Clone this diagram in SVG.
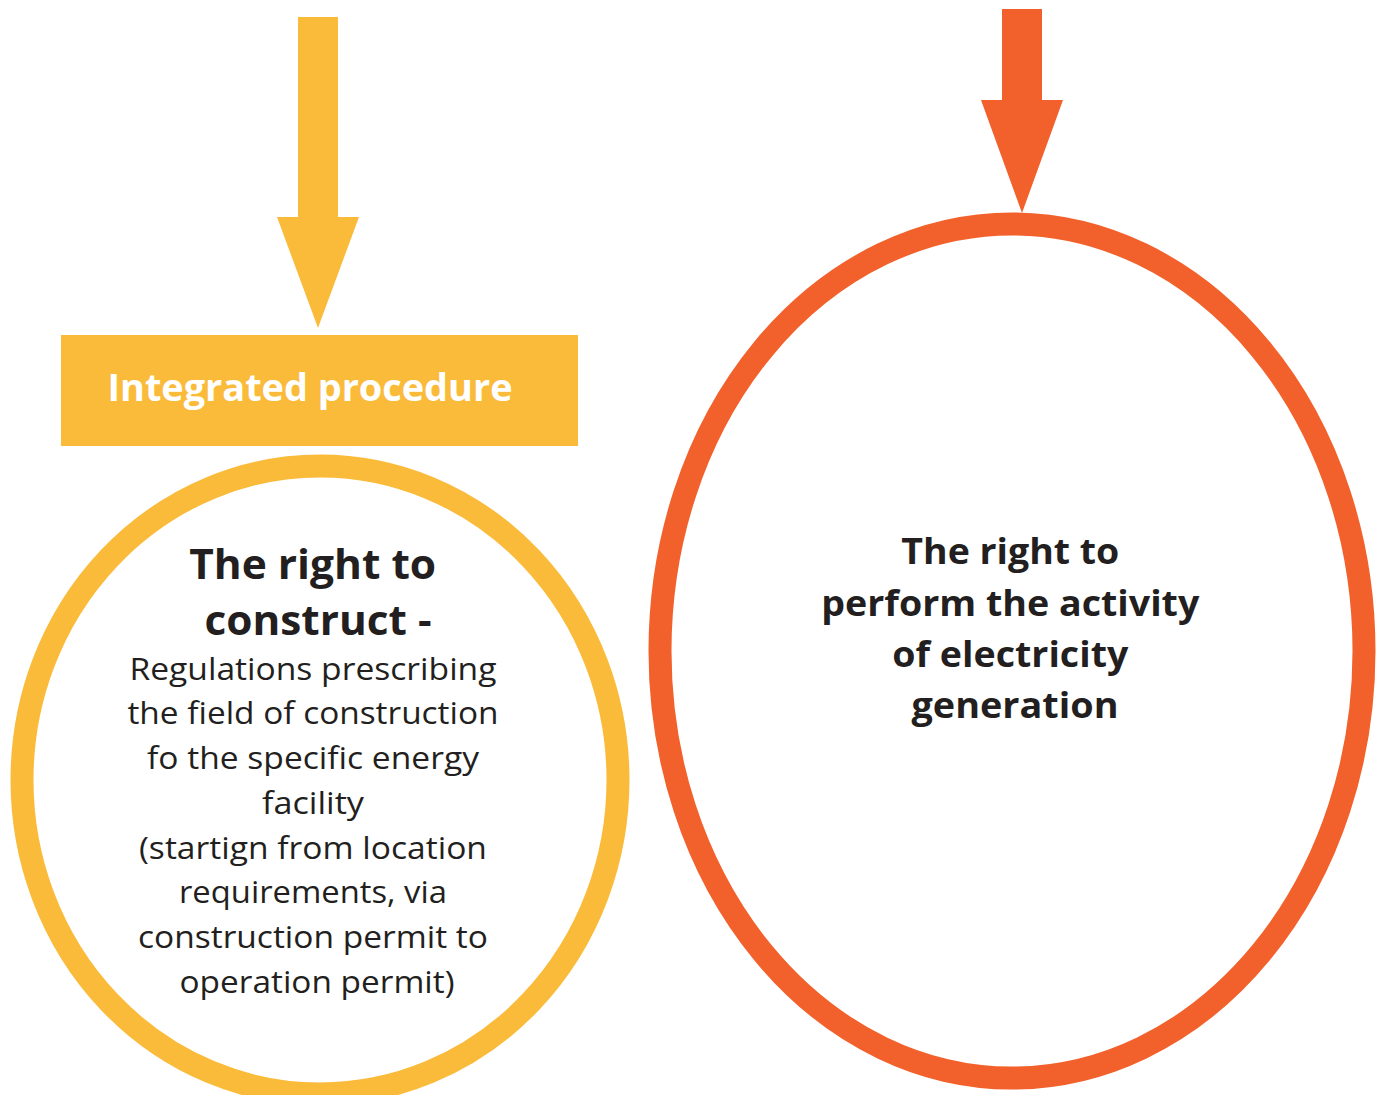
<svg xmlns="http://www.w3.org/2000/svg" width="1381" height="1095" viewBox="0 0 1381 1095">
<style>
.t{font-family:"Open Sans","Liberation Sans",sans-serif;fill:#231f20;text-anchor:middle}
.b{font-weight:bold}
.r{font-weight:normal}
.yel{fill:#fbbb3a}
.org{fill:#f2612b}
</style>
<rect width="1381" height="1095" fill="#ffffff"/>
<g id="connectors">
<polygon class="yel" points="298,17 338,17 338,217 359,217 318,328 277,217 298,217"/>
<polygon class="org" points="1002,9 1042,9 1042,100 1063,100 1022,213 981,100 1002,100"/>
</g>
<g id="integrated-procedure">
<rect class="yel" x="61" y="335" width="517" height="111"/>
<text x="310" y="401" font-family="Open Sans, Liberation Sans, sans-serif" font-size="38" font-weight="bold" fill="#ffffff" text-anchor="middle" textLength="405" lengthAdjust="spacingAndGlyphs">Integrated procedure</text>
</g>
<g id="right-to-construct">
<ellipse cx="320" cy="780" rx="298" ry="314" fill="#ffffff" stroke="#fbbb3a" stroke-width="23"/>
<text class="t b" font-size="41">
<tspan x="318" y="579" textLength="247" lengthAdjust="spacingAndGlyphs">The right to</tspan>
<tspan x="318" y="635" textLength="227" lengthAdjust="spacingAndGlyphs">construct -</tspan>
</text>
<text class="t r" font-size="31">
<tspan x="317" y="680" textLength="367" lengthAdjust="spacingAndGlyphs">Regulations prescribing</tspan>
<tspan x="317" y="724" textLength="371" lengthAdjust="spacingAndGlyphs">the field of construction</tspan>
<tspan x="317" y="769" textLength="332" lengthAdjust="spacingAndGlyphs">fo the specific energy</tspan>
<tspan x="317" y="814" textLength="102" lengthAdjust="spacingAndGlyphs">facility</tspan>
<tspan x="317" y="859" textLength="348" lengthAdjust="spacingAndGlyphs">(startign from location</tspan>
<tspan x="317" y="903" textLength="268" lengthAdjust="spacingAndGlyphs">requirements, via</tspan>
<tspan x="317" y="948" textLength="350" lengthAdjust="spacingAndGlyphs">construction permit to</tspan>
<tspan x="317" y="993" textLength="275" lengthAdjust="spacingAndGlyphs">operation permit)</tspan>
</text>
</g>
<g id="right-to-perform">
<ellipse cx="1012" cy="651" rx="352" ry="427" fill="#ffffff" stroke="#f2612b" stroke-width="23"/>
<text class="t b" font-size="36">
<tspan x="1015" y="564" textLength="218" lengthAdjust="spacingAndGlyphs">The right to</tspan>
<tspan x="1015" y="616" textLength="378" lengthAdjust="spacingAndGlyphs">perform the activity</tspan>
<tspan x="1015" y="667" textLength="236" lengthAdjust="spacingAndGlyphs">of electricity</tspan>
<tspan x="1015" y="718" textLength="207" lengthAdjust="spacingAndGlyphs">generation</tspan>
</text>
</g>
</svg>
